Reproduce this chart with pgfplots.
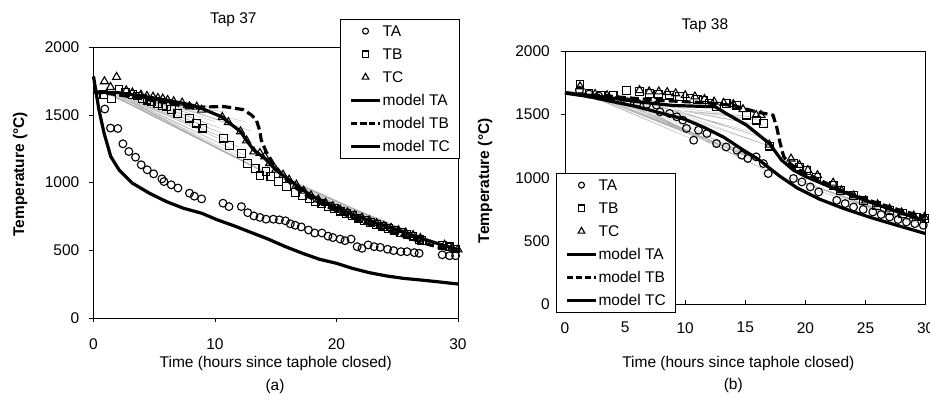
\documentclass[border=0pt]{standalone}
\usepackage{fontspec}
\setmainfont{Liberation Sans}
\usepackage{pgfplots}
\pgfplotsset{compat=1.18}
\newcommand{\fs}{\fontsize{15.5}{18}\selectfont}
\pgfplotsset{
 tapaxis/.style={
  scale only axis, xmin=0, xmax=30, ymin=0, ymax=2000,
  ytick={0,500,1000,1500,2000},
  axis line style={line width=0.9pt},
  major tick style={line width=0.9pt, black},
  major tick length=4.5pt,
  xtick pos=bottom, ytick pos=left,
  /pgf/number format/assume math mode=true,
  /pgf/number format/1000 sep={},
  tick label style={font=\fs},
  label style={font=\fs},
  xlabel style={anchor=base},
  ylabel style={anchor=center, font=\fs\bfseries},
  title style={font=\fs, anchor=base, yshift=0pt},
  clip=false,
  legend cell align=left,
  legend image code/.code={\path[draw=none,fill=none] (0pt,-6pt) rectangle (29pt,6pt);\draw[mark repeat=2,mark phase=2,#1] plot coordinates {(0pt,0pt) (14.5pt,0pt) (29pt,0pt)};},
  legend style={font=\fs, draw=black, line width=0.8pt, fill=white, anchor=north west,
     inner xsep=9pt, inner ysep=5pt, row sep=9.5pt,
     nodes={inner sep=1pt, text height=11.5pt, text depth=0pt}},
 },
 dat/.style={only marks, black, line width=1.1pt, mark options={fill=white, solid}},
 fan/.style={gray!60, line width=0.3pt, forget plot},
 mdl/.style={black, line width=3.2pt, forget plot},
}
\begin{document}
\begin{tikzpicture}
\useasboundingbox (0,0) rectangle (930pt,398pt);
% ---------------- Tap 37 ----------------
\begin{axis}[tapaxis,
  at={(93.5pt,80pt)}, anchor=south west,
  width=364.5pt, height=270.7pt,
  xtick={0,10,20,30}, tick align=outside,
  yticklabel style={anchor=east, inner sep=0pt, xshift=-9.5pt},
  xticklabel style={anchor=north, inner sep=0pt, yshift=-16pt},
  title={Tap 37}, title style={at={(axis description cs:0.3836,1.0665)}},
  xlabel={Time (hours since taphole closed)},
  xlabel style={at={(axis description cs:0.5,-0.1847)}},
  ylabel={Temperature (°C)},
  ylabel style={at={(axis description cs:-0.2016,0.531)}},
  legend style={at={(axis description cs:0.6763,1.1045)}},
]
\addplot[fan] coordinates {(1,1665) (13.5,1100) (1.2,1660) (14,1080) (1.4,1655) (14.5,1060) (1.6,1650) (15,1040) (1.8,1650) (13,1150) (2,1645) (12.5,1200) (2.2,1645) (12,1260) (2.5,1640) (11.5,1300) (3,1630) (11,1350) (3.5,1625) (10.5,1400) (4,1620) (10,1450) (4.5,1610) (9,1500) (5,1600) (12,1540) (5.5,1590) (11,1520) (6,1585) (13,1380) (6.5,1580) (12.5,1450)};
\addplot[fan] coordinates {(15,1070) (28,545) (15.5,1040) (28.5,535) (16,1010) (29,530) (16.5,990) (28,550) (17,960) (27,575) (17.5,930) (29.5,520)};
\addplot[mdl] coordinates {(0,1785) (0.45,1537) (0.87,1366) (1.42,1193) (2.1,1095) (3.2,996) (4.6,922) (6.0,860) (7.4,811) (8.9,774) (10.2,725) (11.6,680) (13.0,631) (14.4,582) (15.8,527) (17.2,478) (18.6,434) (20.0,404) (21.3,367) (22.7,335) (24.1,311) (25.5,293) (26.9,281) (28.2,269) (30,251)};
\addplot[mdl] coordinates {(0,1670) (2,1665) (4,1640) (6,1610) (8,1575) (9,1545) (10.6,1484) (11.1,1446) (12.1,1378) (12.6,1311) (13.2,1240) (14.1,1180) (15,1095) (16.1,1021) (17.9,905) (19.7,825) (21.5,760) (23.3,700) (25.1,648) (26.9,590) (28.5,545) (30,505)};
\addplot[mdl, dash pattern=on 9pt off 4pt] coordinates {(0,1670) (2,1650) (4,1620) (6,1590) (8,1555) (10.7,1563) (12.3,1540) (13.0,1500) (13.4,1464) (13.7,1380) (13.8,1316) (14.2,1230) (14.8,1140) (15.5,1060) (16.5,970) (18,880) (20,790) (22,715) (24,650) (26,590) (27.5,545) (28.5,520) (30,490)};
% TA
\addplot[dat, mark=o, mark size=3.9pt, forget plot] coordinates {(0.93,1544) (1.4,1403) (2.0,1400) (2.42,1287) (2.91,1230) (3.46,1188) (3.93,1132) (4.42,1095) (4.95,1065) (5.63,1028) (5.8,1008) (6.4,984) (6.95,960) (7.9,922) (8.3,900) (8.9,880) (10.66,848) (11.15,823) (12.17,823) (12.7,778) (13.2,754) (13.7,743) (14.2,730) (14.8,730) (15.3,725) (15.8,718) (16.2,696) (16.6,685) (17.1,673) (17.7,650) (18.2,628) (18.8,628) (19.3,605) (19.7,594) (20.3,583) (20.7,571) (21.2,583) (21.7,527) (22.1,515) (22.6,540) (23.1,527) (23.6,522) (24.2,508) (24.7,498) (25.3,490) (25.8,490) (26.4,483) (26.8,478) (28.7,467) (29.3,460) (29.8,460)};
% TB
\addplot[dat, mark=square, mark size=3.9pt, forget plot] coordinates {(0.86,1649) (1.5,1624) (2.1,1686) (2.6,1665) (3.2,1649) (3.6,1640) (4.0,1624) (4.4,1610) (4.8,1600) (5.3,1585) (5.7,1567) (6.0,1560) (6.4,1538) (6.95,1513) (7.9,1477) (8.5,1440) (9.0,1403) (10.7,1329) (11.2,1272) (12.2,1213) (12.7,1144) (13.3,1107) (13.7,1050) (14.2,1082) (14.6,1045) (15.2,1008) (15.9,971) (16.6,927) (17.2,905) (17.8,885) (18.3,862) (18.8,845) (19.3,826) (19.8,808) (20.3,790) (20.8,772) (21.3,755) (21.8,738) (22.3,720) (22.8,703) (23.3,690) (23.8,675) (24.3,660) (24.8,645) (25.3,632) (25.8,620) (26.3,605) (26.8,580) (27.0,570) (28.7,535) (29.3,525) (29.8,510)};
% TC
\addplot[dat, mark=triangle, mark size=4.6pt, forget plot] coordinates {(0.9,1748) (1.4,1706) (1.9,1780) (2.7,1681) (3.2,1665) (3.9,1649) (4.4,1640) (4.9,1634) (5.3,1625) (5.7,1620) (6.1,1610) (6.6,1600) (7.3,1590) (7.9,1563) (8.5,1560) (8.9,1538) (10.6,1484) (11.1,1446) (12.1,1378) (12.6,1311) (13.2,1230) (13.7,1218) (14.1,1193) (14.5,1144) (15.0,1095) (15.6,1058) (16.1,1021) (16.7,984) (17.3,940) (17.9,905) (18.5,875) (19.1,850) (19.7,825) (20.3,800) (20.9,780) (21.5,760) (22.1,740) (22.7,720) (23.3,700) (23.9,680) (24.5,665) (25.1,648) (25.7,630) (26.3,612) (26.9,590) (28.9,540) (29.5,520) (30.0,505)};
\addlegendimage{dat, mark=o, mark size=3pt}\addlegendentry{TA}
\addlegendimage{dat, mark=square, mark size=3.2pt}\addlegendentry{TB}
\addlegendimage{dat, mark=triangle, mark size=3.8pt}\addlegendentry{TC}
\addlegendimage{black, line width=3.2pt}\addlegendentry{model TA}
\addlegendimage{black, line width=3.2pt, dash pattern=on 6pt off 3pt}\addlegendentry{model TB}
\addlegendimage{black, line width=3.2pt}\addlegendentry{model TC}
\node[font=\fs, anchor=base] at (axis description cs:0.498,-0.2686) {(a)};
\end{axis}
% ---------------- Tap 38 ----------------
\begin{axis}[tapaxis,
  at={(565pt,93.5pt)}, anchor=south west,
  width=360.7pt, height=253.5pt,
  xtick={0,5,10,15,20,25,30}, xtick align=inside, ytick align=outside,
  yticklabel style={anchor=east, inner sep=0pt, xshift=-10.5pt},
  xticklabel style={anchor=north, inner sep=0pt, yshift=-17.5pt},
  title={Tap 38}, title style={at={(axis description cs:0.388,1.062)}},
  xlabel={Time (hours since taphole closed)},
  xlabel style={at={(axis description cs:0.4805,-0.2493)}},
  ylabel={Temperature (°C)},
  ylabel style={at={(axis description cs:-0.2218,0.488)}},
  legend style={at={(axis description cs:-0.025,0.5187)}},
]
\addplot[fan] coordinates {(1.2,1680) (10.7,1300) (1.5,1675) (12,1280) (2,1665) (13,1250) (2.5,1655) (14,1220) (3,1650) (15,1180) (3.5,1645) (16,1130) (4,1640) (16.9,1050) (5,1620) (17,1100) (6,1600) (17,1250) (8,1560) (17,1300) (9,1540) (17,1400) (10,1530) (16.5,1450) (11,1520) (15.5,1480) (7,1580) (16,1350)};
\addplot[fan] coordinates {(18.7,1000) (29,650) (19.5,980) (29.5,640) (20.4,940) (28.5,660) (21,900) (29.8,630)};
\addplot[mdl] coordinates {(0,1668) (2,1640) (4,1600) (6,1560) (8,1510) (10,1460) (11.5,1400) (13.2,1320) (14.8,1220) (16,1150) (17.9,1010) (19.3,920) (21.2,830) (23.1,760) (25.3,690) (27.6,625) (30,559)};
\addplot[mdl] coordinates {(0,1670) (3,1640) (6,1600) (9,1570) (12.5,1560) (13.4,1507) (15.1,1415) (17,1270) (18,1140) (19,1060) (20,1010) (22,930) (25,820) (28,720) (30,660)};
\addplot[mdl, dash pattern=on 9pt off 4pt] coordinates {(0,1670) (4,1640) (8,1610) (12,1590) (14,1570) (15.9,1520) (17.3,1494) (17.6,1402) (17.9,1270) (18.2,1164) (18.7,1112) (19.5,1060) (21,990) (23,900) (25,830) (28,740) (30,690)};
% TA
\addplot[dat, mark=o, mark size=3.9pt, forget plot] coordinates {(1.2,1690) (2.0,1660) (2.8,1645) (3.6,1630) (4.4,1615) (5.2,1600) (6.0,1590) (6.8,1580) (7.6,1573) (7.9,1520) (8.7,1507) (9.3,1481) (9.8,1455) (10.1,1389) (10.7,1296) (11.1,1375) (11.8,1349) (12.6,1270) (13.4,1243) (14.3,1217) (14.7,1178) (15.2,1152) (15.9,1165) (16.5,1112) (16.9,1033) (19.0,994) (19.7,967) (20.4,928) (21.1,888) (22.6,822) (23.3,796) (24.0,769) (24.8,750) (25.6,730) (26.3,710) (27.0,690) (27.7,670) (28.4,651) (29.1,638) (29.8,625)};
% TB
\addplot[dat, mark=square, mark size=3.9pt, forget plot] coordinates {(1.25,1739) (2.0,1665) (3.0,1650) (4.0,1650) (5.1,1686) (6.2,1678) (7.0,1665) (7.8,1660) (8.7,1652) (9.5,1640) (10.4,1626) (11.0,1620) (11.5,1613) (12.0,1590) (12.6,1560) (13.4,1587) (14.3,1573) (15.1,1494) (15.9,1455) (16.5,1428) (17.0,1250) (19.0,1110) (19.5,1085) (20.1,1059) (20.9,1006) (22.3,940) (22.9,901) (24.0,862) (24.8,822) (25.9,783) (27.0,743) (28.1,717) (29.2,690) (29.9,677)};
% TC
\addplot[dat, mark=triangle, mark size=4.6pt, forget plot] coordinates {(1.25,1720) (2.5,1660) (3.5,1650) (6.2,1690) (7.0,1680) (7.8,1680) (8.5,1675) (9.2,1665) (10.0,1650) (10.8,1640) (11.6,1620) (12.4,1600) (13.2,1590) (14.0,1580) (14.8,1540) (15.9,1494) (16.3,1494) (17.0,1260) (18.8,1150) (19.5,1100) (20.2,1060) (21.0,1020) (22.3,960) (23.0,900) (24.0,860) (25.0,820) (26.0,790) (27.0,755) (28.0,725) (29.0,700) (29.9,690)};
\addlegendimage{dat, mark=o, mark size=3pt}\addlegendentry{TA}
\addlegendimage{dat, mark=square, mark size=3.2pt}\addlegendentry{TB}
\addlegendimage{dat, mark=triangle, mark size=3.8pt}\addlegendentry{TC}
\addlegendimage{black, line width=3.2pt}\addlegendentry{model TA}
\addlegendimage{black, line width=3.2pt, dash pattern=on 6pt off 3pt}\addlegendentry{model TB}
\addlegendimage{black, line width=3.2pt}\addlegendentry{model TC}
\node[font=\fs, anchor=base] at (axis description cs:0.4666,-0.337) {(b)};
\end{axis}
\end{tikzpicture}
\end{document}
